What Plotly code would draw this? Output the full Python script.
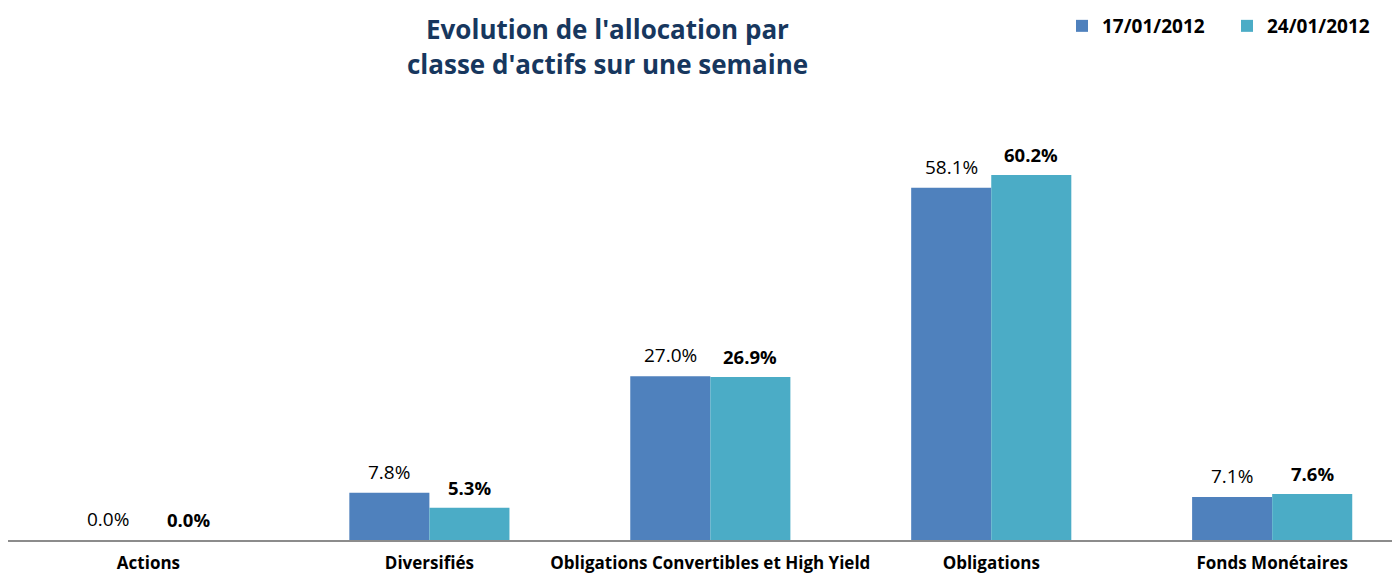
import plotly.graph_objects as go

categories = ["Actions", "Diversifiés", "Obligations Convertibles et High Yield", "Obligations", "Fonds Monétaires"]
series_names = ["17/01/2012", "24/01/2012"]
values_1701 = [0.0, 7.8, 27.0, 58.1, 7.1]
values_2401 = [0.0, 5.3, 26.9, 60.2, 7.6]
colors = ["#4F81BD", "#4BACC6"]
title_lines = ["Evolution de l'allocation par", "classe d'actifs sur une semaine"]

FONT = "Open Sans"
W, H = 1392, 570
ML, MR, MT, MB = 0, 0, 100, 38
plot_h = H - MT - MB

fig = go.Figure()
series = [(series_names[0], values_1701, colors[0], "normal", 19, -40),
          (series_names[1], values_2401, colors[1], "bold", 18.5, 40)]
for name, vals, col, w, fs, dx in series:
    fig.add_trace(go.Bar(
        x=categories, y=vals, name=name,
        marker=dict(color=col, line=dict(width=0)),
    ))
    for c, v in zip(categories, vals):
        fig.add_annotation(
            x=c, y=v, xref="x", yref="y", xshift=dx, yshift=6,
            text=f"{v:.1f}%", showarrow=False, yanchor="bottom", xanchor="center",
            font=dict(family=FONT, size=fs, color="#000000", weight=w),
        )

for line, fy in zip(title_lines, [21.5, 56]):
    fig.add_annotation(
        x=599 / (W - ML - MR), y=(H - MB - fy) / plot_h,
        xref="paper", yref="paper", text=line, showarrow=False,
        xanchor="center", yanchor="middle",
        font=dict(family=FONT, size=26, color="#17375E", weight="bold"),
    )

fig.update_layout(
    width=W, height=H,
    margin=dict(l=ML, r=MR, t=MT, b=MB, autoexpand=False),
    paper_bgcolor="white", plot_bgcolor="white",
    barmode="group", bargap=0.43, bargroupgap=0,
    legend=dict(orientation="h", x=1054 / W, xanchor="left", y=(H - MB + 1) / plot_h, yanchor="top",
                font=dict(family=FONT, size=19, color="#000000", weight="bold"),
                traceorder="normal", itemwidth=30, entrywidth=120, entrywidthmode="pixels"),
    showlegend=True,
    hovermode=False,
)
fig.update_xaxes(range=[-0.5, 4.455], showline=True, linecolor="#8C8C8C", linewidth=1.5,
                 ticks="", ticklabelstandoff=7, automargin=False,
                 tickfont=dict(family=FONT, size=17, color="#000000", weight="bold"),
                 showgrid=False)
fig.update_yaxes(range=[0, 71.25], visible=False, showgrid=False, zeroline=False)

fig.write_html("out.html")
